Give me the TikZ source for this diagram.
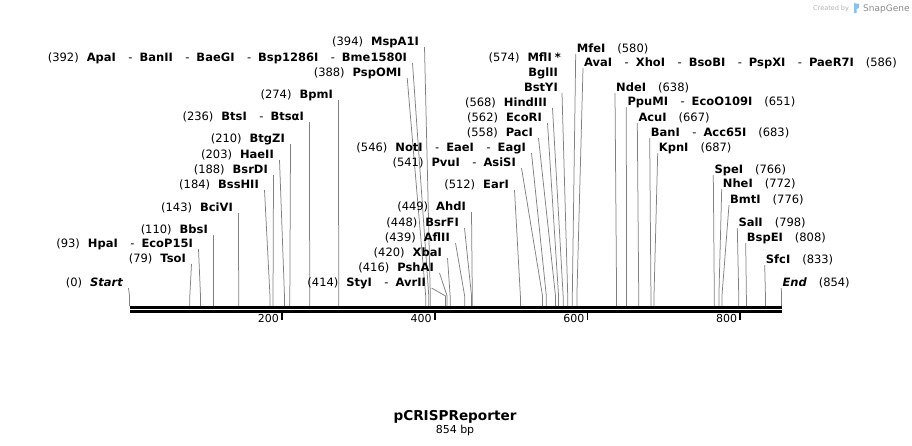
\documentclass[tikz,border=0pt]{standalone}
\usepackage{fontspec}
\setmainfont{DejaVu Sans}
\usetikzlibrary{calc}

\newcommand\enzno[1]{{\mdseries\upshape(#1)}}
\newcommand\dsh{\hspace{12.5pt}{\mdseries -}\hspace{7pt}}

\begin{document}
\begin{tikzpicture}[x=1pt,y=-1pt,
     lbl/.style={inner sep=0pt,font=\fontsize{11.5}{13}\selectfont\bfseries},
     num/.style={inner sep=0pt,font=\fontsize{11}{13}\selectfont},
     site/.style={draw=black!50,line width=0.75pt},
     bb/.style={line width=2.7pt},
     tick/.style={line width=1.7pt}
     ]
\useasboundingbox (0,0) rectangle (912,445);

%Ends of the sequence line
\def \xmin{129.5}
\def \xmax{781.5}
\def \len{854}

%Top edge of the sequence line
\def \ybb{306}
\pgfmathsetmacro{\scl}{(\xmax-\xmin)/\len}

%Draw the sequence line (double)
\draw[bb] (\xmin,307.3) -- (\xmax,307.3);
\draw[bb] (\xmin,311.3) -- (\xmax,311.3);

%Ticks every 200 bp
\foreach \t in {200,400,600,800}
   {
\pgfmathsetmacro{\xt}{\xmin+\t*\scl}
\coordinate (T\t) at (\xt,313);
\draw[tick] (T\t) -- ++(0,7);
\node[num,anchor=base east] (N\t) at (\xt-3,322) {\t};
   }

%Sites with the label left of the line
\foreach [count=\i] \bp/\ex/\by/\txt in {
      0/123/286/{\itshape Start},
      79/186/262/TsoI,
      93/193/247/HpaI\dsh EcoP15I,
      110/208/233/BbsI,
      143/233/211/BciVI,
      184/259/188/BssHII,
      188/268/173/BsrDI,
      203/274/158/HaeII,
      210/285/142/BtgZI,
      236/304/120/BtsI\dsh BtsαI,
      274/333/98/BpmI,
      388/401.7/76/PspOMI,
      392/407/61/ApaI\dsh BanII\dsh BaeGI\dsh Bsp1286I\dsh Bme1580I,
      394/419/45/MspA1I,
      414/426/286/StyI\dsh AvrII,
      416/434/271/PshAI,
      420/442/256/XbaI,
      439/450/241/AflII,
      448/459/226/BsrFI,
      449/466/210/AhdI,
      512/509/188/EarI,
      541/516/166/PvuI\dsh AsiSI,
      546/526/151/NotI\dsh EaeI\dsh EagI,
      558/533/136/PacI,
      562/542/121/EcoRI,
      568/547/106/HindIII}
   {
\pgfmathsetmacro{\xs}{\xmin+\bp*\scl}
\node[lbl,anchor=base east] (L\i) at (\ex,\by) {\enzno{\bp}\hspace{8pt}\txt};
\coordinate (S\i) at (\xs,\ybb);
\draw[site] ([xshift=5.5pt,yshift=-2pt]L\i.base east) -- ([yshift=10pt]S\i) -- (S\i);
   }

%Three enzymes at 574
\pgfmathsetmacro{\xs}{\xmin+574*\scl}
\node[lbl,anchor=base east] (mfl) at (561,61) {\enzno{574}\hspace{8pt}MflI\hspace{3pt}*};
\node[lbl,anchor=base east] (bgl) at (558,76) {BglII};
\node[lbl,anchor=base east] (bst) at (558,91) {BstYI};
\coordinate (S574) at (\xs,\ybb);
\draw[site] ([xshift=4pt,yshift=-2pt]bst.base east) -- ([yshift=10pt]S574) -- (S574);

%Sites with the label right of the line
\foreach [count=\i] \bp/\sx/\by/\txt in {
      580/576.7/52/MfeI,
      586/584/66/AvaI\dsh XhoI\dsh BsoBI\dsh PspXI\dsh PaeR7I,
      638/616/91/NdeI,
      651/627.3/105/PpuMI\dsh EcoO109I,
      667/638.3/121/AcuI,
      683/650.7/136/BanI\dsh Acc65I,
      687/658.7/151/KpnI,
      766/714.3/173/SpeI,
      772/722.7/187/NheI,
      776/730/203/BmtI,
      798/738.3/226/SalI,
      808/746.7/241/BspEI,
      833/765.7/263/SfcI,
      854/782.3/286/{\itshape End}}
   {
\pgfmathsetmacro{\xs}{\xmin+\bp*\scl}
\node[lbl,anchor=base west] (R\i) at (\sx,\by) {\txt\hspace{12pt}\enzno{\bp}};
\coordinate (E\i) at (\xs,\ybb);
\draw[site] ([xshift=-1pt,yshift=-2pt]R\i.base west) -- ([yshift=10pt]E\i) -- (E\i);
   }

%Name and length
\node[lbl,font=\fontsize{13.6}{16}\selectfont\bfseries,anchor=base] (title) at (455,420) {pCRISPReporter};
\node[num,anchor=base] (size) at (455,433) {854 bp};

%Corner mark
\node[inner sep=0pt,font=\fontsize{6.5}{8}\selectfont,text=black!30,anchor=base west] (made) at (813,10) {Created by};
\fill[cyan!70!blue!45] (854,3) -- (859,4) -- (859,8) -- (856.5,9) -- (856.5,13) -- (854,13) -- cycle;
\node[inner sep=0pt,font=\fontsize{9}{10}\selectfont,text=black!45,anchor=base west] (snap) at (863,11) {SnapGene};
 \end{tikzpicture}
\end{document}
